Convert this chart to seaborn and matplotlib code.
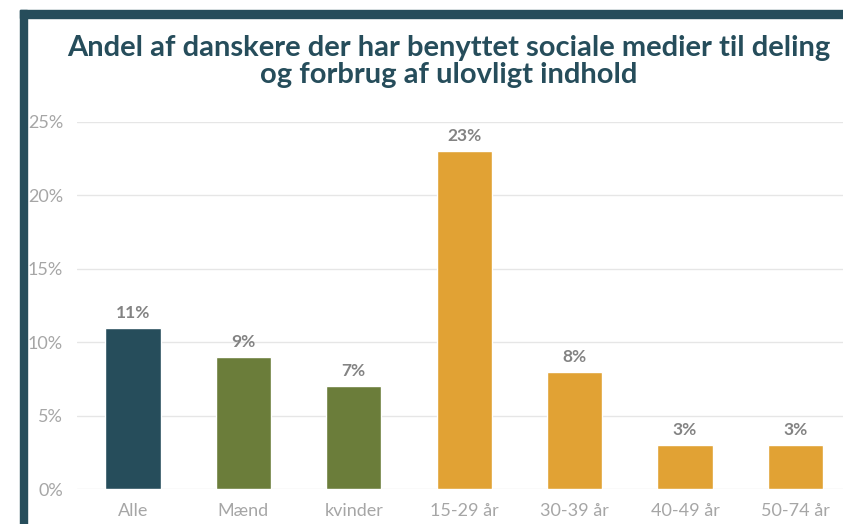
import matplotlib
matplotlib.use('Agg')
import matplotlib.pyplot as plt
import seaborn as sns
from matplotlib.patches import Rectangle

# data
kategorier = ['Alle', 'Mænd', 'kvinder', '15-29 år', '30-39 år', '40-49 år', '50-74 år']
andel = [11, 9, 7, 23, 8, 3, 3]
farver = ['#264D5B', '#6B7D3A', '#6B7D3A', '#E1A234', '#E1A234', '#E1A234', '#E1A234']
y_ticks = [0, 5, 10, 15, 20, 25]

sns.set_theme(style='white')
plt.rcParams['font.family'] = ['Lato', 'DejaVu Sans']

fig = plt.figure(figsize=(8.43, 5.24), dpi=100)
ax = fig.add_axes([77 / 843, 35 / 524, 773.6 / 843, 367 / 524])

sns.barplot(x=kategorier, y=andel, hue=kategorier, palette=farver,
            legend=False, width=0.5, saturation=1, ax=ax)

for c in ax.containers:
    ax.bar_label(c, labels=[f'{v:.0f}%' for v in c.datavalues], padding=5,
                 fontsize=12.5, fontweight='bold', color='#838383')

ax.set_ylim(0, 25)
ax.set_xlim(-0.507, 6.5)
ax.set_yticks(y_ticks)
ax.set_yticklabels([f'{t}%' for t in y_ticks])
ax.yaxis.grid(True, color='#E6E6E6', linewidth=1)
ax.set_axisbelow(True)
for s in ax.spines.values():
    s.set_visible(False)
ax.tick_params(axis='y', colors='#A6A6A6', labelsize=13, pad=10, length=0)
ax.tick_params(axis='x', colors='#A6A6A6', labelsize=13, pad=10, length=0)
ax.set_xlabel('')
ax.set_ylabel('')

fig.text(0.532, (524 - 88) / 524,
         'Andel af danskere der har benyttet sociale medier til deling\nog forbrug af ulovligt indhold',
         ha='center', va='bottom', fontsize=21, fontweight='bold', color='#264D5B',
         linespacing=1.05)

# ramme
fig.patches.append(Rectangle((20 / 843, 0), 7 / 843, 1 - 10 / 524, transform=fig.transFigure,
                             color='#264D5B', zorder=5))
fig.patches.append(Rectangle((20 / 843, 1 - 18 / 524), 1, 8 / 524, transform=fig.transFigure,
                             color='#264D5B', zorder=5))

fig.savefig('out.png', dpi=100)
